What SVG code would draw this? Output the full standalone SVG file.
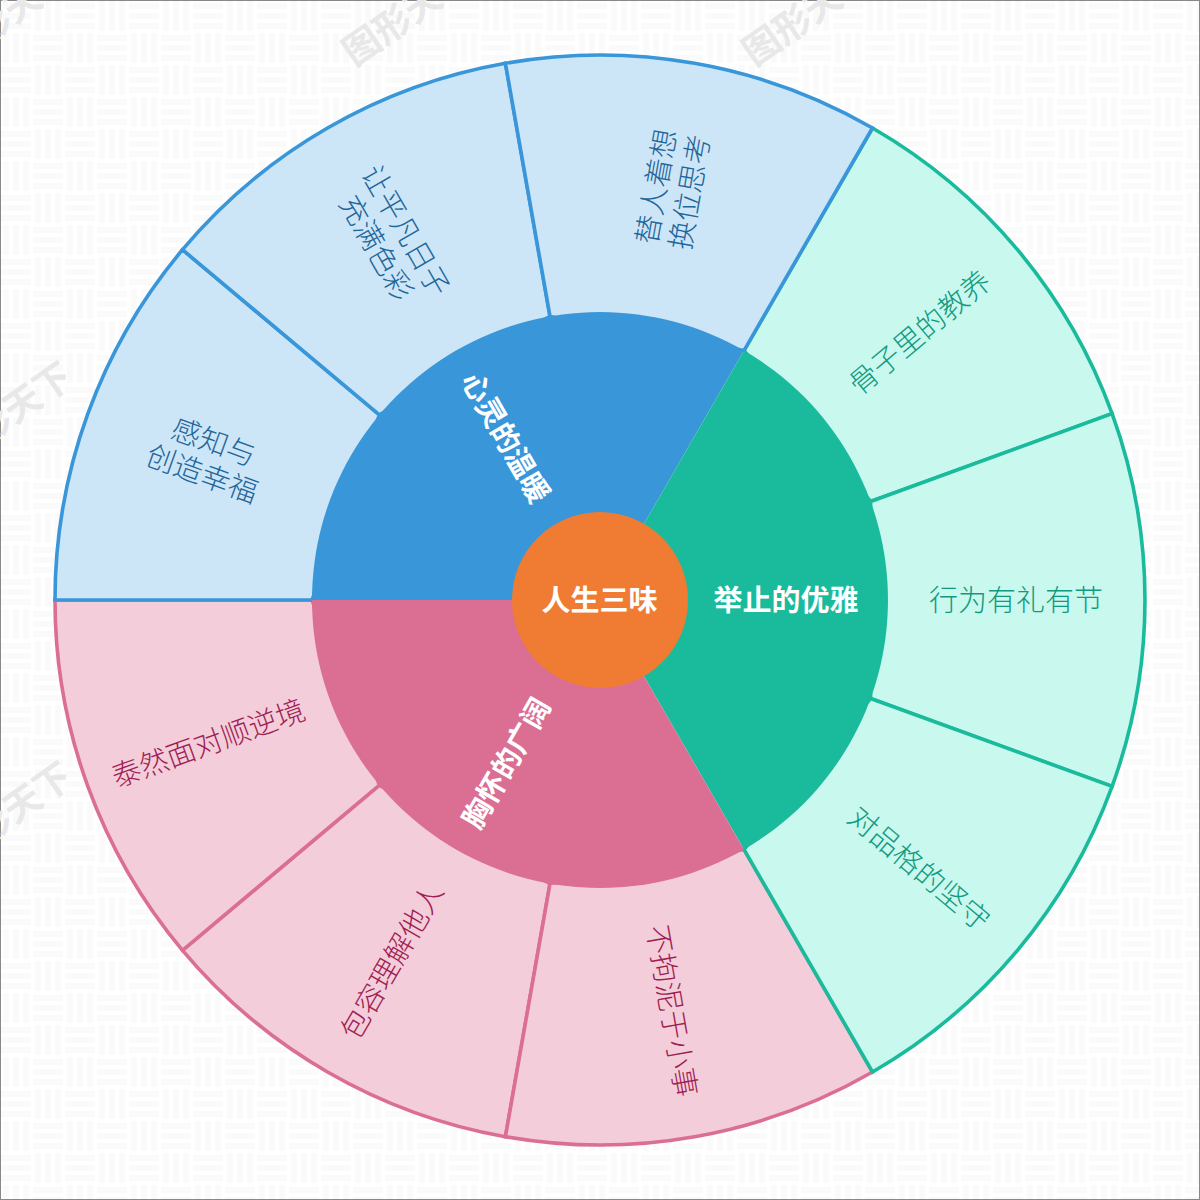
<svg xmlns="http://www.w3.org/2000/svg" width="1200" height="1200" viewBox="0 0 1200 1200">
<style>
text{font-family:"Noto Sans CJK SC","Noto Sans",sans-serif;font-size:29px;text-anchor:middle;dominant-baseline:central}
.wm text{font-size:37px;fill:#e8e8e8;font-weight:700;text-anchor:start}
.b{fill:#cce5f7;stroke:#3896d9}.g{fill:#c8f8ee;stroke:#1abb9c}.p{fill:#f4cddb;stroke:#db6e93}
.seg path{stroke-width:3.6}
.tb,.tg,.tp{font-weight:300}
.tb{fill:#1f669a}.tg{fill:#129a7e}.tp{fill:#a01f52}
.w{fill:#fff;font-weight:700}
</style>
<defs>
<pattern id="weave" width="64" height="64" patternUnits="userSpaceOnUse">
<rect width="64" height="64" fill="#fff"/>
<g fill="#fafafa">
<rect x="1" y="3" width="30" height="6"/><rect x="1" y="13" width="30" height="6"/><rect x="1" y="23" width="30" height="6"/>
<rect x="35" y="1" width="6" height="30"/><rect x="45" y="1" width="6" height="30"/><rect x="55" y="1" width="6" height="30"/>
<rect x="3" y="33" width="6" height="30"/><rect x="13" y="33" width="6" height="30"/><rect x="23" y="33" width="6" height="30"/>
<rect x="33" y="35" width="30" height="6"/><rect x="33" y="45" width="30" height="6"/><rect x="33" y="55" width="30" height="6"/>
</g>
</pattern>
</defs>
<rect id="background" x="0" y="0" width="1200" height="1200" fill="url(#weave)" stroke="#888" stroke-width="2"/>
<g id="watermarks" class="wm">
<text transform="translate(345,54) rotate(-35)">图形天下</text>
<text transform="translate(745,54) rotate(-35)">图形天下</text>
<text transform="translate(-55,54) rotate(-35)">图形天下</text>
<text transform="translate(-55,454) rotate(-35)">图形天下</text>
<text transform="translate(-55,854) rotate(-35)">图形天下</text>
</g>
<g id="outer-ring" class="seg">
<g id="seg-p3"><path class="p" d="M550 883.6L505.4 1136.7A545 545 0 0 1 182.5 950.3L379.4 785.1Z"/></g>
<g id="seg-p2"><path class="p" d="M744 849.4L872.5 1072A545 545 0 0 1 505.4 1136.7L550 883.6Z"/></g>
<g id="seg-p4"><path class="p" d="M379.4 785.1L182.5 950.3A545 545 0 0 1 55 600L312 600Z"/></g>
<g id="seg-g1"><path class="g" d="M744 350.6L872.5 128A545 545 0 0 1 1112.1 413.6L870.6 501.5Z"/></g>
<g id="seg-g2"><path class="g" d="M870.6 501.5L1112.1 413.6A545 545 0 0 1 1112.1 786.4L870.6 698.5Z"/></g>
<g id="seg-g3"><path class="g" d="M870.6 698.5L1112.1 786.4A545 545 0 0 1 872.5 1072L744 849.4Z"/></g>
<g id="seg-b1"><path class="b" d="M312 600L55 600A545 545 0 0 1 182.5 249.7L379.4 414.9Z"/></g>
<g id="seg-b2"><path class="b" d="M379.4 414.9L182.5 249.7A545 545 0 0 1 505.4 63.3L550 316.4Z"/></g>
<g id="seg-b3"><path class="b" d="M550 316.4L505.4 63.3A545 545 0 0 1 872.5 128L744 350.6Z"/></g>
</g>
<g id="middle-ring">
<g id="mid-blue"><path fill="#3896d9" d="M600 600L312 600A288 288 0 0 1 744 350.6Z"/><text class="w" y="-2" transform="translate(506,437.2) rotate(60)">心灵的温暖</text></g>
<g id="mid-green"><path fill="#1abb9c" d="M600 600L744 350.6A288 288 0 0 1 744 849.4Z"/><text class="w" y="-2" transform="translate(786,600)">举止的优雅</text></g>
<g id="mid-pink"><path fill="#db6e93" d="M600 600L744 849.4A288 288 0 0 1 312 600Z"/><text class="w" y="-2" transform="translate(506,762.8) rotate(-60)">胸怀的广阔</text></g>
</g>
<g id="center"><circle cx="600" cy="600" r="88" fill="#f07c33"/><text class="w" x="599.5" y="598">人生三味</text></g>
<g id="labels">
<g transform="translate(208.1,457.4) rotate(20)"><text class="tb" y="-19">感知与</text><text class="tb" y="15">创造幸福</text></g>
<g transform="translate(391.5,238.9) rotate(60)"><text class="tb" y="-19">让平凡日子</text><text class="tb" y="15">充满色彩</text></g>
<g transform="translate(672.4,189.3) rotate(-80)"><text class="tb" y="-19">替人着想</text><text class="tb" y="15">换位思考</text></g>
<text class="tg" y="-2" transform="translate(919.4,332) rotate(-40)">骨子里的教养</text>
<text class="tg" y="-2" transform="translate(1016,600)">行为有礼有节</text>
<text class="tg" y="-2" transform="translate(919.4,868) rotate(40)">对品格的坚守</text>
<text class="tp" y="-2" transform="translate(672.4,1010.7) rotate(80)">不拘泥于小事</text>
<text class="tp" y="-2" transform="translate(391.5,961.1) rotate(-60)">包容理解他人</text>
<text class="tp" y="-2" transform="translate(208.1,742.6) rotate(-20)">泰然面对顺逆境</text>
</g>
</svg>
